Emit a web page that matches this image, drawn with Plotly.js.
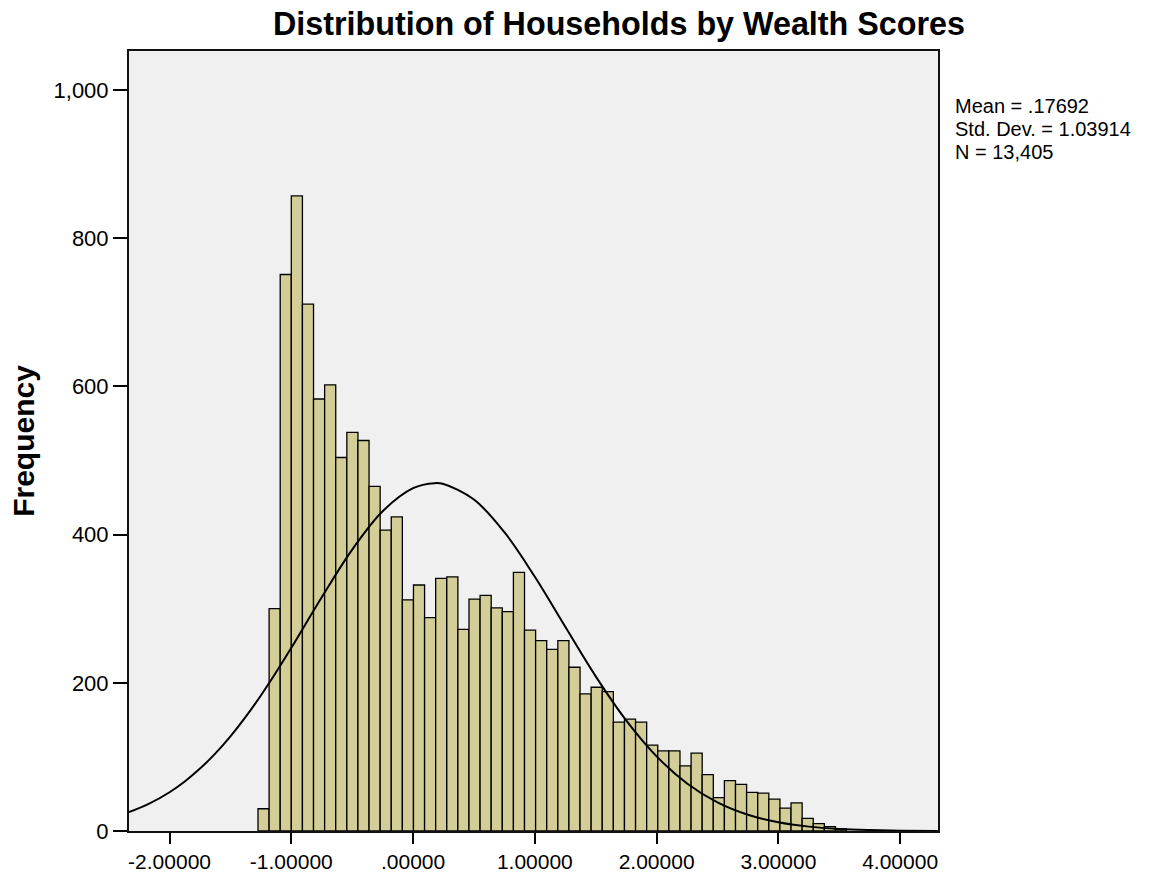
<!DOCTYPE html>
<html>
<head>
<meta charset="utf-8">
<script src="https://cdn.plot.ly/plotly-3.0.1.min.js"></script>
<style>
html,body{margin:0;padding:0;background:#fff;}
#chart{width:1154px;height:873px;}
</style>
</head>
<body>
<div id="chart"></div>
<script>
// ---- Data ----
// Histogram: bin layout and counts
var binStart = -1.2736;
var binWidth = 0.0912;
var counts = [30, 300, 751, 857, 711, 583, 602, 504, 538, 527,
              465, 406, 424, 312, 332, 288, 341, 343, 272, 313,
              318, 301, 296, 349, 271, 257, 245, 257, 221, 185,
              194, 188, 147, 151, 147, 116, 108, 108, 88, 105,
              76, 45, 68, 63, 52, 51, 43, 31, 38, 17,
              10, 6, 3];

// Overlaid normal curve
var curveX = [-2.333, -2.167, -2.0, -1.875, -1.75, -1.625, -1.5, -1.375, -1.25, -1.125,
              -1.0, -0.75, -0.5, -0.25, 0.0, 0.177, 0.25, 0.5, 0.75, 1.0,
              1.25, 1.5, 1.75, 2.0, 2.25, 2.5, 2.75, 3.0, 3.25, 3.5,
              3.75, 4.0, 4.31];
var curveY = [25.4, 36.9, 52.3, 66.8, 84.2, 104.4, 127.7, 153.9, 182.9, 214.2,
              247.2, 315.4, 379.7, 431.5, 462.7, 469.4, 468.2, 447.3, 403.2, 343.0,
              275.5, 208.7, 149.3, 100.7, 64.2, 38.6, 21.9, 11.7, 5.9, 2.8,
              1.3, 0.5, 0.15];

// Tick labels
var xTickVals = [-2, -1, 0, 1, 2, 3, 4];
var xTickText = ['-2.00000', '-1.00000', '.00000', '1.00000', '2.00000', '3.00000', '4.00000'];
var yTickVals = [0, 200, 400, 600, 800, 1000];
var yTickText = ['0', '200', '400', '600', '800', '1,000'];

// Texts
var chartTitle = 'Distribution of Households by Wealth Scores';
var yTitle = 'Frequency';
var statsLines = ['Mean = .17692', 'Std. Dev. = 1.03914', 'N = 13,405'];

// ---- Build traces ----
var binCenters = counts.map(function (c, i) { return binStart + (i + 0.5) * binWidth; });

var bars = {
  type: 'bar',
  x: binCenters,
  y: counts,
  width: binWidth,
  marker: { color: '#D3CE97', line: { color: '#000000', width: 1.3 } },
  hoverinfo: 'x+y',
  showlegend: false
};

var curve = {
  type: 'scatter',
  mode: 'lines',
  x: curveX,
  y: curveY,
  line: { color: '#000000', width: 2, shape: 'spline', smoothing: 1.0 },
  hoverinfo: 'skip',
  showlegend: false
};

var FONT = 'Arial, "Liberation Sans", sans-serif';

var statsY = [0.9295, 0.9000, 0.8705];
var annotations = statsLines.map(function (t, i) {
  return {
    text: t, xref: 'paper', yref: 'paper', x: 1.0185, y: statsY[i],
    xanchor: 'left', yanchor: 'middle', showarrow: false,
    font: { family: FONT, size: 20, color: '#000' }
  };
});

var layout = {
  width: 1154, height: 873,
  margin: { l: 129, r: 216, t: 51, b: 42 },
  paper_bgcolor: '#ffffff',
  plot_bgcolor: '#F0F0F0',
  font: { family: FONT, color: '#000' },
  bargap: 0,
  title: {
    text: '<b>' + chartTitle + '</b>',
    font: { family: FONT, size: 32.3, color: '#000' },
    xref: 'container', x: 0.5364, xanchor: 'center',
    yref: 'container', y: 0.9725, yanchor: 'middle'
  },
  xaxis: {
    range: [-2.333, 4.311],
    tickmode: 'array', tickvals: xTickVals, ticktext: xTickText,
    ticks: 'outside', ticklen: 11, tickwidth: 2, tickcolor: '#000',
    tickfont: { family: FONT, size: 21, color: '#000' },
    showline: true, linecolor: '#111', linewidth: 2, mirror: true,
    showgrid: false, zeroline: false, fixedrange: true
  },
  yaxis: {
    range: [0, 1052.6],
    tickmode: 'array', tickvals: yTickVals, ticktext: yTickText,
    ticks: 'outside', ticklen: 14, tickwidth: 2, tickcolor: '#000',
    tickfont: { family: FONT, size: 22, color: '#000' },
    showline: true, linecolor: '#111', linewidth: 2, mirror: true,
    showgrid: false, zeroline: false, fixedrange: true,
    title: { text: '<b>' + yTitle + '</b>', font: { family: FONT, size: 30, color: '#000' }, standoff: 10 }
  },
  annotations: annotations,
  showlegend: false
};

Plotly.newPlot('chart', [bars, curve], layout, { displayModeBar: false, staticPlot: true });
</script>
</body>
</html>
